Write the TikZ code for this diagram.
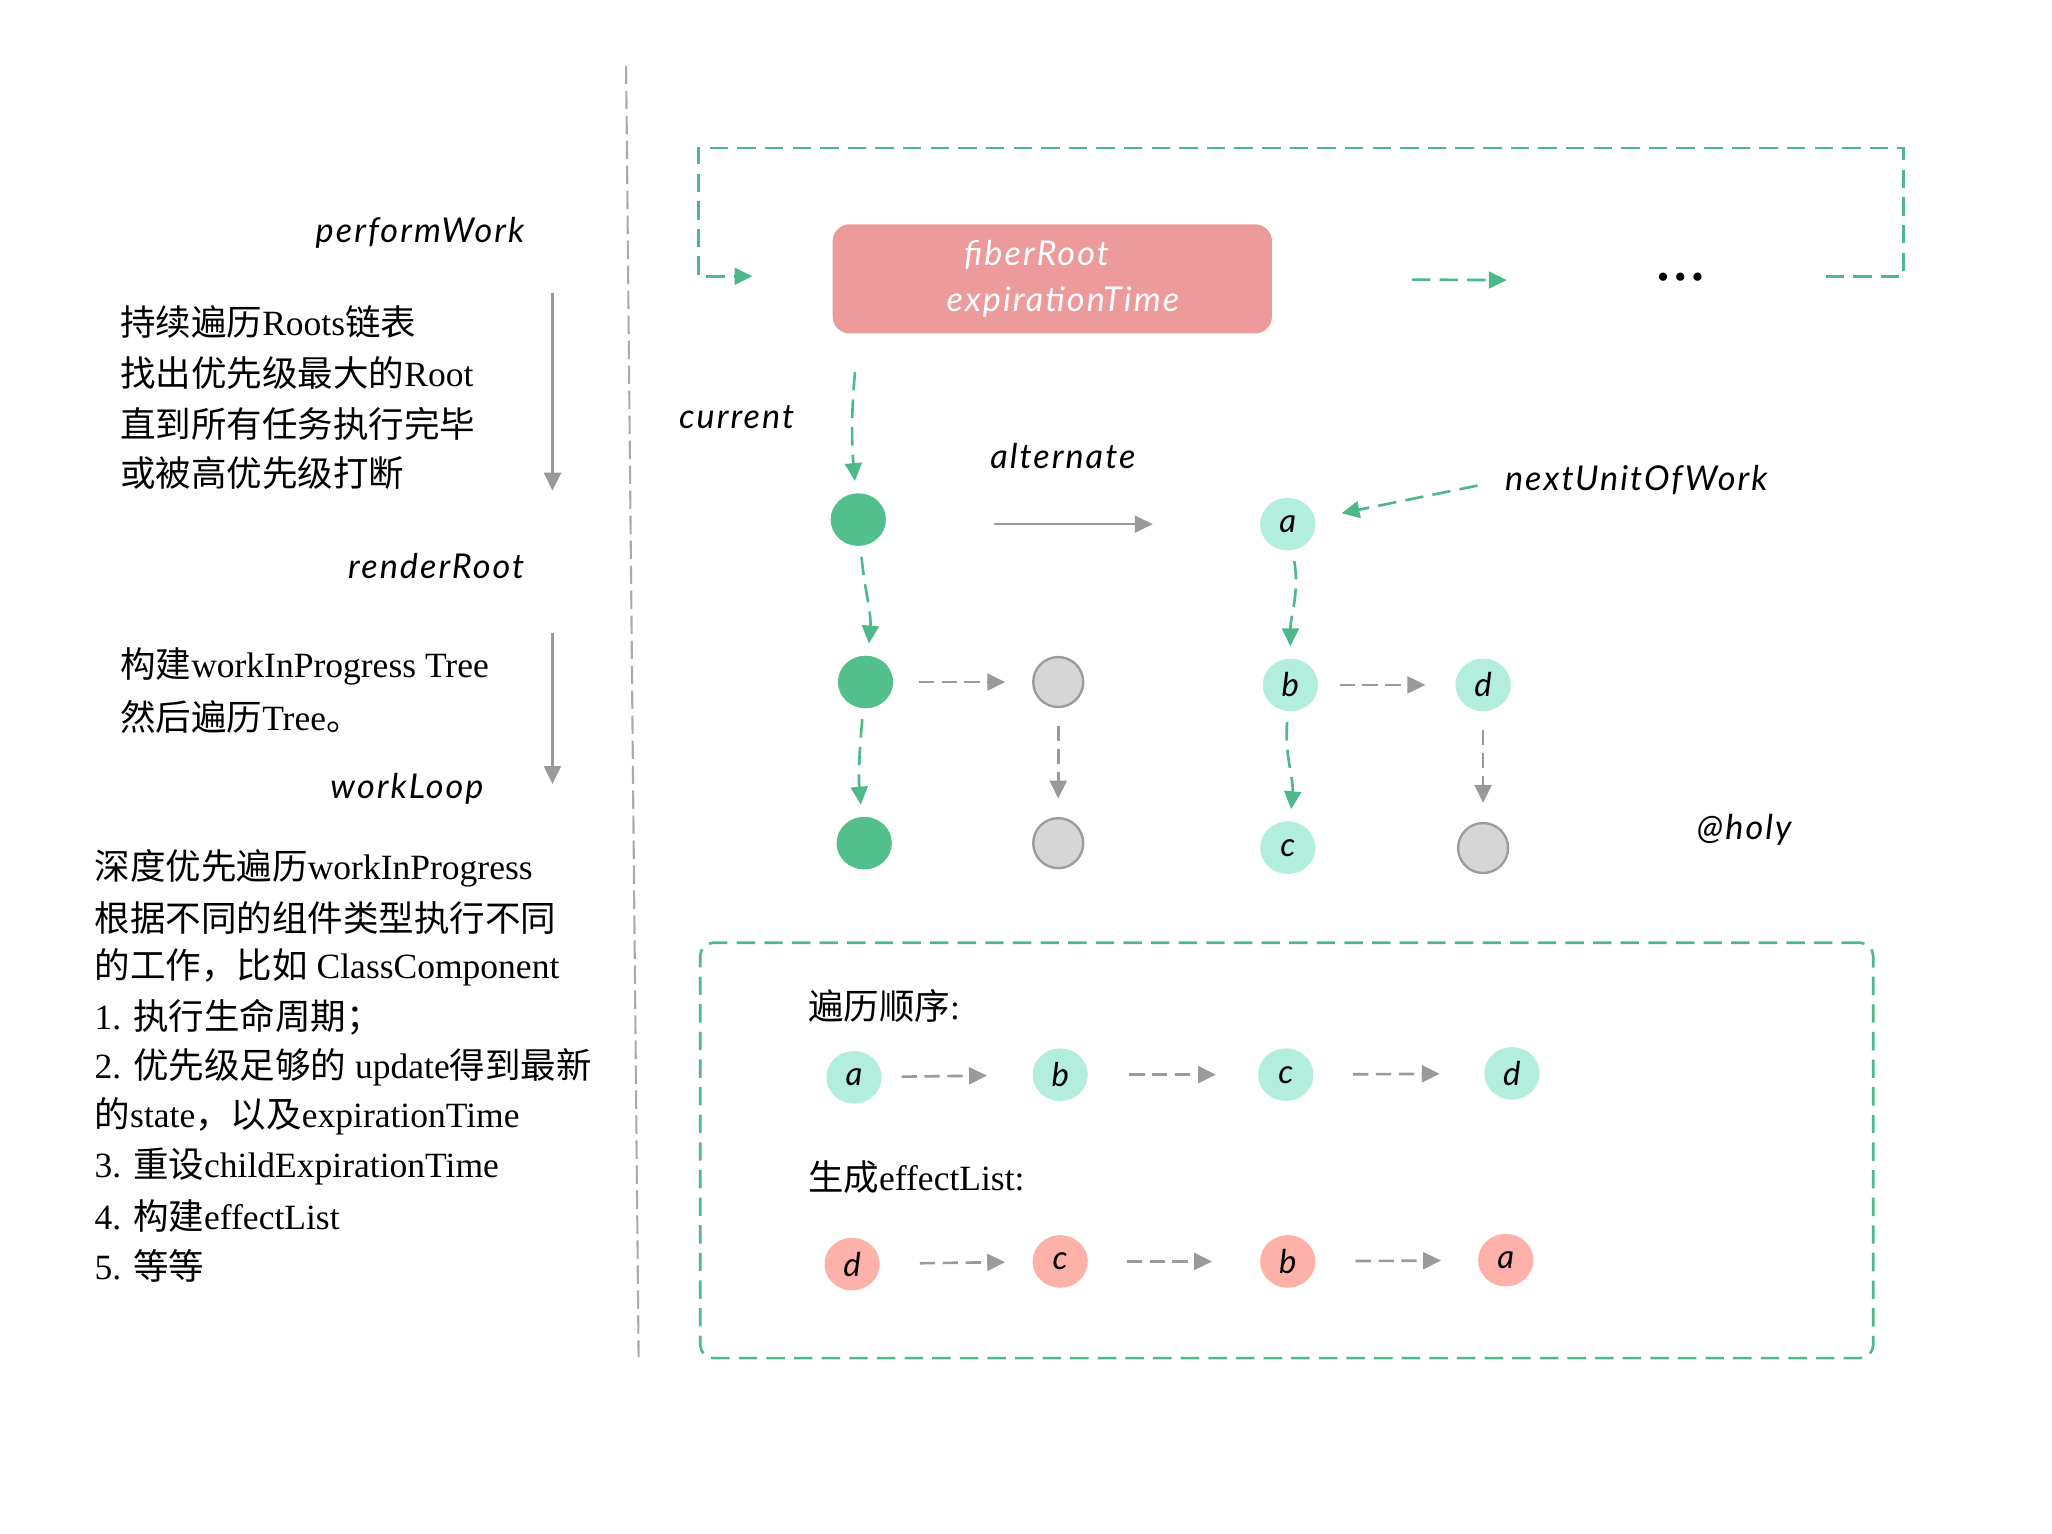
\documentclass[tikz,border=0pt]{standalone}
\usepackage{fontspec}
\setmainfont{Liberation Serif}
\newfontfamily\cjkfont{Noto Sans CJK SC}
\newfontfamily\handfont{Lato}[LetterSpace=6]
\usetikzlibrary{arrows.meta,shapes.geometric}
\newcommand\zhs[1]{{\cjkfont #1}}
\definecolor{gcol}{HTML}{4DB88A}
\definecolor{gfill}{HTML}{52BF8D}
\definecolor{tfill}{HTML}{B3EDDE}
\definecolor{sfill}{HTML}{FDB1A9}
\definecolor{rootfill}{HTML}{EC9A9A}
\definecolor{acol}{HTML}{9A9A9A}
\definecolor{hfill}{HTML}{D6D6D6}
\definecolor{hbord}{HTML}{9C9C9C}
\definecolor{sepcol}{HTML}{AAAAAA}
\tikzset{
  gdash/.style={draw=gcol, line width=1pt, dash pattern=on 7pt off 3.5pt},
  garr/.style={gdash, -{Triangle[length=6.8pt,width=6.4pt]}},
  hdash/.style={draw=acol, line width=1pt, dash pattern=on 5.8pt off 2.9pt, -{Triangle[length=6.8pt,width=6.4pt]}},
  hsolid/.style={draw=acol, line width=1pt, -{Triangle[length=6.8pt,width=6.4pt]}},
  fnode/.style={ellipse, minimum width=21pt, minimum height=20pt, inner sep=0pt, font=\handfont\itshape\fontsize{12.5pt}{14pt}\selectfont},
  gnode/.style={fnode, fill=gfill},
  tnode/.style={fnode, fill=tfill},
  snode/.style={fnode, fill=sfill},
  hnode/.style={fnode, fill=hfill, draw=hbord, line width=0.9pt, minimum width=19pt, minimum height=19pt},
  hw/.style={inner sep=0pt, font=\handfont\itshape\fontsize{13pt}{15pt}\selectfont},
  zl/.style={anchor=west, inner sep=0pt, font=\fontsize{13.5pt}{16pt}\selectfont},
  rootbox/.style={fill=rootfill, rounded corners=6.5pt, minimum width=167pt, minimum height=41.5pt, inner sep=0pt, text=white, align=center, font=\handfont\itshape\fontsize{13pt}{17.8pt}\selectfont},
  listbox/.style={gdash, rounded corners=5pt, minimum width=445.85pt, minimum height=157.9pt, inner sep=0pt},
  sepline/.style={draw=sepcol, line width=0.8pt, dash pattern=on 7pt off 2.5pt},
}
\begin{document}
\begin{tikzpicture}[x=0.5pt,y=0.5pt]
\useasboundingbox (0,0) rectangle (1560,-1166);

% ---------- left column ----------
\node[hw, anchor=east] (pw) at (399,-177) {performWork};
\node[hw, anchor=east] (rr) at (399,-430) {renderRoot};
\node[hw, anchor=east] (wl) at (368,-600) {workLoop};

\coordinate (la1) at (420,-223);
\coordinate (la2) at (420,-373);
\coordinate (la3) at (420,-481);
\coordinate (la4) at (420,-596);
\draw[hsolid] (la1) -- (la2);
\draw[hsolid] (la3) -- (la4);

\node[zl] (p1) at (91,-245) {\zhs{持续遍历}Roots\zhs{链表}};
\node[zl] (p2) at (91,-283.5) {\zhs{找出优先级最大的}Root};
\node[zl] (p3) at (91,-322) {\zhs{直到所有任务执行完毕}};
\node[zl] (p4) at (91,-360) {\zhs{或被高优先级打断}};

\node[zl] (q1) at (91,-507) {\zhs{构建}workInProgress Tree};
\node[zl] (q2) at (91,-545) {\zhs{然后遍历}Tree\zhs{。}};

\node[zl] (r1) at (71.6,-660) {\zhs{深度优先遍历}workInProgress};
\node[zl] (r2) at (71.6,-697.8) {\zhs{根据不同的组件类型执行不同}};
\node[zl] (r3) at (71.6,-735.6) {\zhs{的工作，比如} ClassComponent};
\node[zl] (r4) at (71.6,-773.4) {1. \zhs{执行生命周期；}};
\node[zl] (r5) at (71.6,-811.2) {2. \zhs{优先级足够的} update\zhs{得到最新}};
\node[zl] (r6) at (71.6,-849) {\zhs{的}state\zhs{，以及}expirationTime};
\node[zl] (r7) at (71.6,-886.8) {3. \zhs{重设}childExpirationTime};
\node[zl] (r8) at (71.6,-924.6) {4. \zhs{构建}effectList};
\node[zl] (r9) at (71.6,-962.4) {5. \zhs{等等}};

% separator
\coordinate (s1) at (476,-50);
\coordinate (s2) at (485.5,-1032);
\draw[sepline] (s1) -- (s2);

% ---------- top loop ----------
\node[rootbox] (root) at (800,-212) {fiberRoot\hspace{12pt}\mbox{}\\\mbox{}\hspace{8pt}expirationTime};
\node[inner sep=0pt, font=\fontsize{13pt}{15pt}\selectfont] (dots) at (1277.5,-213.6) {\textbullet\hspace{2pt}\textbullet\hspace{2pt}\textbullet};

\coordinate (lp1) at (1388,-210);
\coordinate (lp2) at (1447,-210);
\coordinate (lp3) at (1447,-112.5);
\coordinate (lp4) at (531,-112.5);
\coordinate (lp5) at (531,-210);
\coordinate (lp6) at (572,-210);
\draw[garr] (lp1) -- (lp2) -- (lp3) -- (lp4) -- (lp5) -- (lp6);
\draw[garr, shorten <=53pt, shorten >=57pt] (root.east) -- (dots.west);

% ---------- trees ----------
\node[hw] (cur) at (560,-317) {current};
\node[hw] (alt) at (808,-347) {alternate};
\node[hw] (next) at (1244,-365) {nextUnitOfWork};
\node[hw] (holy) at (1326,-631) {@holy};

\node[gnode] (g1) at (652.5,-395) {};
\node[gnode] (g2) at (658,-518.5) {};
\node[gnode] (g3) at (657,-641) {};
\node[hnode] (h2) at (804.5,-518.5) {};
\node[hnode] (h3) at (804.5,-641) {};
\node[tnode] (a) at (979,-398.5) {a};
\node[tnode] (b) at (981,-520.7) {b};
\node[tnode] (c) at (979,-644.5) {c};
\node[tnode] (d) at (1127.5,-520.7) {d};
\node[hnode] (h4) at (1127.5,-644.7) {};

\draw[garr, shorten <=14.5pt, shorten >=4.5pt] (root.south -| g1) to[out=-95,in=95] (g1);
\draw[garr, shorten <=4pt, shorten >=4.5pt] (g1) to[out=-85,in=85] (g2);
\draw[garr, shorten <=4pt, shorten >=4.5pt] (g2) to[out=-95,in=95] (g3);
\draw[garr, shorten <=4pt, shorten >=4.5pt] (a) to[out=-80,in=90] (b);
\draw[garr, shorten <=4pt, shorten >=4.5pt] (b) to[out=-95,in=85] (c);
\draw[garr, shorten <=10.5pt, shorten >=10.2pt] (next.west) -- (a);

\draw[hsolid, shorten <=41pt, shorten >=40.6pt] (g1.east |- a) -- (a.west);
\draw[hdash, shorten <=9.5pt, shorten >=10.2pt] (g2) -- (h2);
\draw[hdash, shorten <=6.75pt, shorten >=7pt] (h2) -- (h3);
\draw[hdash, shorten <=8pt, shorten >=11.25pt] (b) -- (d);
\draw[hdash, shorten <=6.9pt, shorten >=7.2pt] (d) -- (h4);

% ---------- lists ----------
\node[listbox] (lst) at (978.2,-874.6) {};
\node[zl] (t1) at (614,-765) {\zhs{遍历顺序}:};
\node[zl] (t2) at (614,-895) {\zhs{生成}effectList:};

\node[tnode] (ra) at (649.2,-819) {a};
\node[tnode] (rb) at (806,-817) {b};
\node[tnode] (rc) at (977.5,-817) {c};
\node[tnode] (rd) at (1149.4,-816) {d};
\draw[hdash, shorten <=7.4pt, shorten >=17.15pt] (ra) -- (rb);
\draw[hdash, shorten <=15.55pt, shorten >=15.85pt] (rb) -- (rc);
\draw[hdash, shorten <=14.85pt, shorten >=16.75pt] (rc) -- (rd);

\node[snode] (ed) at (647.8,-961) {d};
\node[snode] (ec) at (806,-959) {c};
\node[snode] (eb) at (979,-959) {b};
\node[snode] (ea) at (1144.7,-958) {a};
\draw[hdash, shorten <=15.05pt, shorten >=10.25pt] (ed) -- (ec);
\draw[hdash, shorten <=14.55pt, shorten >=18.1pt] (ec) -- (eb);
\draw[hdash, shorten <=15.1pt, shorten >=13.9pt] (eb) -- (ea);
\end{tikzpicture}
\end{document}
